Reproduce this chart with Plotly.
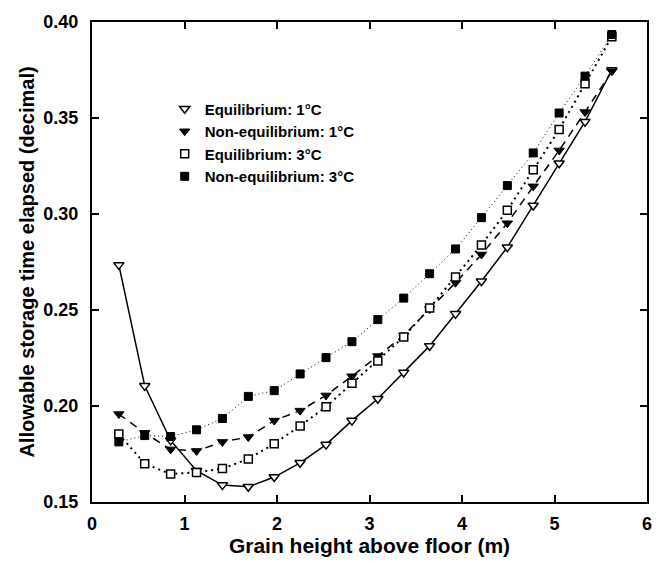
import plotly.graph_objects as go

height_m = [0.29, 0.57, 0.85, 1.13, 1.41, 1.69, 1.97, 2.25, 2.53, 2.81,
            3.09, 3.37, 3.65, 3.93, 4.21, 4.49, 4.77, 5.05, 5.33, 5.62]

eq_1c = [0.2735, 0.2105, 0.1821, 0.1663, 0.1588, 0.1579, 0.1630, 0.1704, 0.1799, 0.1924,
         0.2038, 0.2175, 0.2313, 0.2480, 0.2650, 0.2827, 0.3044, 0.3264, 0.3481, 0.3750]
noneq_1c = [0.1958, 0.1860, 0.1774, 0.1766, 0.1813, 0.1838, 0.1924, 0.1976, 0.2055, 0.2155,
            0.2260, 0.2367, 0.2505, 0.2642, 0.2789, 0.2952, 0.3144, 0.3331, 0.3531, 0.3743]
eq_3c = [0.1854, 0.1699, 0.1646, 0.1654, 0.1674, 0.1724, 0.1804, 0.1896, 0.1996, 0.2118,
         0.2235, 0.2360, 0.2510, 0.2672, 0.2839, 0.3019, 0.3231, 0.3440, 0.3678, 0.3923]
noneq_3c = [0.1813, 0.1846, 0.1841, 0.1876, 0.1935, 0.2050, 0.2080, 0.2167, 0.2252, 0.2335,
            0.2450, 0.2562, 0.2689, 0.2818, 0.2981, 0.3148, 0.3318, 0.3526, 0.3718, 0.3935]

names = ["Equilibrium: 1°C", "Non-equilibrium: 1°C", "Equilibrium: 3°C", "Non-equilibrium: 3°C"]
series = [eq_1c, noneq_1c, eq_3c, noneq_3c]

x_ticks = [0, 1, 2, 3, 4, 5, 6]
y_ticks = [0.15, 0.20, 0.25, 0.30, 0.35, 0.40]

styles = [
    dict(line=dict(color="black", width=1.5, dash="solid"),
         marker=dict(symbol="triangle-down", size=9, color="white", line=dict(color="black", width=1.5))),
    dict(line=dict(color="black", width=1.5, dash="8px,6px"),
         marker=dict(symbol="triangle-down", size=9, color="black", line=dict(color="black", width=1))),
    dict(line=dict(color="black", width=2, dash="2px,4px"),
         marker=dict(symbol="square", size=8, color="white", line=dict(color="black", width=1.5))),
    dict(line=dict(color="black", width=1, dash="1px,3px"),
         marker=dict(symbol="square", size=8, color="black", line=dict(color="black", width=1))),
]

fig = go.Figure()
for name, ys, st in zip(names, series, styles):
    fig.add_trace(go.Scatter(x=height_m, y=ys, mode="lines+markers", name=name,
                             line=st["line"], marker=st["marker"], showlegend=False))
# legend entries (markers only, as in the reference)
for name, st in zip(names, styles):
    fig.add_trace(go.Scatter(x=[None], y=[None], mode="markers", name=name,
                             marker=st["marker"], showlegend=True))

font_family = "Liberation Sans, Arial, Helvetica, sans-serif"
fig.update_layout(
    width=664, height=566,
    margin=dict(l=92, r=13, t=13, b=53),
    paper_bgcolor="white", plot_bgcolor="white",
    font=dict(family=font_family, color="black", size=16, weight="bold"),
    legend=dict(x=0.131, y=0.853, xanchor="left", yanchor="top",
                bgcolor="rgba(0,0,0,0)", font=dict(size=15, weight="bold"),
                tracegroupgap=0, itemwidth=30),
    xaxis=dict(range=[0, 6], tickvals=x_ticks, ticktext=[str(v) for v in x_ticks],
               ticks="inside", ticklen=7, tickwidth=1.5, tickcolor="black",
               showline=True, linecolor="black", linewidth=2, mirror="ticks",
               showgrid=False, zeroline=False, ticklabelstandoff=4,
               tickfont=dict(size=18, weight="bold"),
               title=dict(text="Grain height above floor (m)", font=dict(size=21, weight="bold"), standoff=6)),
    yaxis=dict(range=[0.15, 0.40], tickvals=y_ticks, ticktext=["%.2f" % v for v in y_ticks],
               ticks="inside", ticklen=7, tickwidth=1.5, tickcolor="black",
               showline=True, linecolor="black", linewidth=2, mirror="ticks",
               showgrid=False, zeroline=False, ticklabelstandoff=8,
               tickfont=dict(size=18, weight="bold"),
               title=dict(text="Allowable storage time elapsed (decimal)", font=dict(size=20, weight="bold"), standoff=3)),
)

fig.write_html("out.html", config={"displayModeBar": False},
               post_script="document.body.style.margin='0';document.body.style.padding='0';")
